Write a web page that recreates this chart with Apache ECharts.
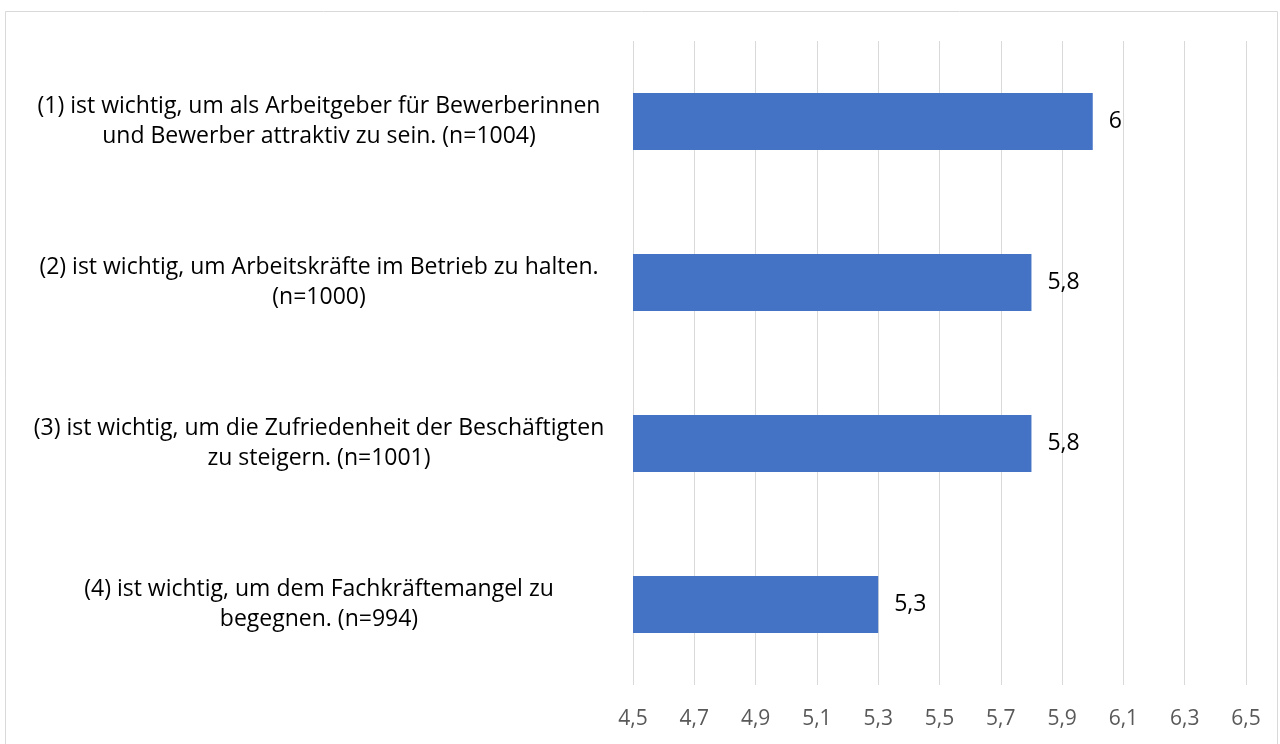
<!DOCTYPE html>
<html><head><meta charset="utf-8">
<script src="https://cdn.jsdelivr.net/npm/echarts@6/dist/echarts.min.js"></script>
<style>html,body{margin:0;padding:0;background:#fff}#c{width:1280px;height:744px}</style>
</head><body><div id="c"></div>
<script>
const categories = [
  "(1) ist wichtig, um als Arbeitgeber für Bewerberinnen\nund Bewerber attraktiv zu sein. (n=1004)",
  "(2) ist wichtig, um Arbeitskräfte im Betrieb zu halten.\n(n=1000)",
  "(3) ist wichtig, um die Zufriedenheit der Beschäftigten\nzu steigern. (n=1001)",
  "(4) ist wichtig, um dem Fachkräftemangel zu\nbegegnen. (n=994)"
];
const values = [6.0, 5.8, 5.8, 5.3];
const axisMin = 4.5, axisMax = 6.5, axisStep = 0.2;

const fmt = v => String(Math.round(v * 10) / 10).replace('.', ',');
const chart = echarts.init(document.getElementById('c'));
chart.setOption({
  animation: false,
  textStyle: { fontFamily: "'Open Sans', sans-serif" },
  graphic: [{ type: 'rect', shape: { x: 5.5, y: 11.5, width: 1272, height: 760 },
    style: { fill: 'none', stroke: '#d9d9d9', lineWidth: 1 }, silent: true }],
  grid: { left: 633, right: 34, top: 41, bottom: 59 },
  xAxis: {
    type: 'value', min: axisMin, max: axisMax, interval: axisStep,
    axisLine: { show: false }, axisTick: { show: false },
    splitLine: { lineStyle: { color: '#d9d9d9', width: 1 } },
    axisLabel: { formatter: v => fmt(v), color: '#595959', fontSize: 21, margin: 24 }
  },
  yAxis: {
    type: 'category', data: categories, inverse: true,
    axisLine: { show: false }, axisTick: { show: false },
    axisLabel: { align: 'center', margin: 314, color: '#000', fontSize: 23, lineHeight: 30 }
  },
  series: [{
    type: 'bar', data: values, barCategoryGap: '64.5%',
    itemStyle: { color: '#4472C4' },
    label: { show: true, position: 'right', distance: 16, formatter: p => fmt(p.value),
      color: '#000', fontSize: 23 }
  }]
});
</script></body></html>
